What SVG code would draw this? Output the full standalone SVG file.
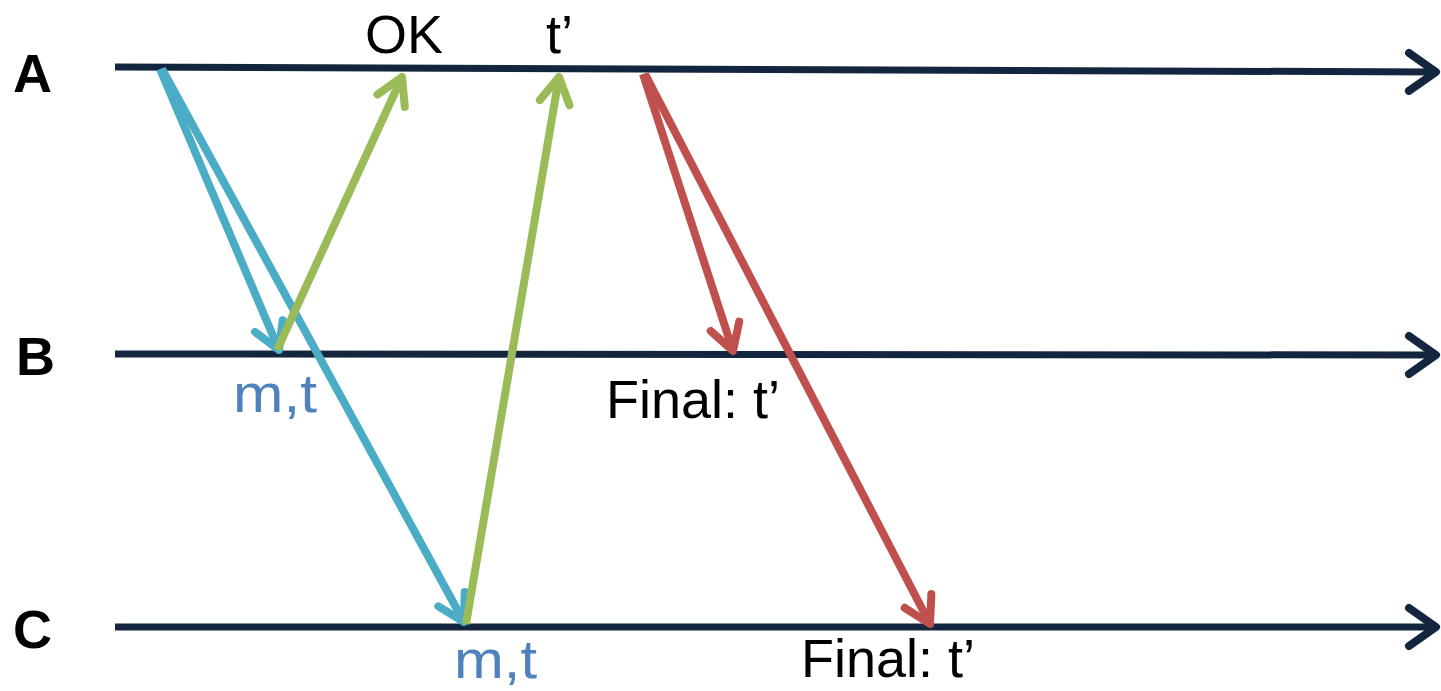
<svg xmlns="http://www.w3.org/2000/svg" width="1441" height="691" viewBox="0 0 1441 691">
<style>
.tl{stroke:#14263f;stroke-width:7;fill:none}
.c{stroke-width:8;fill:none}
.blue{stroke:#4bacc6}
.green{stroke:#9bbb59}
.red{stroke:#c0504d}
.lbl{font-family:"Liberation Sans",Arial,sans-serif;font-size:54px;fill:#000}
.big{font-weight:bold;font-size:54px}
.mt{fill:#4f81bd}
</style>
<defs>
<marker id="hNavy" markerUnits="userSpaceOnUse" viewBox="-35 -25 40 50" refX="0" refY="0" markerWidth="40" markerHeight="50" orient="auto" overflow="visible">
<path d="M-27 -19 L0 0 L-27 19" fill="none" stroke="#14263f" stroke-width="8" stroke-linecap="round" stroke-linejoin="round"/>
</marker>
<marker id="hBlue" markerUnits="userSpaceOnUse" viewBox="-35 -25 40 50" refX="0" refY="0" markerWidth="40" markerHeight="50" orient="auto" overflow="visible">
<path d="M-26 -15 L0 0 L-26 15" fill="none" stroke="#4bacc6" stroke-width="8" stroke-linecap="round" stroke-linejoin="round"/>
</marker>
<marker id="hGreen" markerUnits="userSpaceOnUse" viewBox="-35 -25 40 50" refX="0" refY="0" markerWidth="40" markerHeight="50" orient="auto" overflow="visible">
<path d="M-26 -15 L0 0 L-26 15" fill="none" stroke="#9bbb59" stroke-width="8" stroke-linecap="round" stroke-linejoin="round"/>
</marker>
<marker id="hRed" markerUnits="userSpaceOnUse" viewBox="-35 -25 40 50" refX="0" refY="0" markerWidth="40" markerHeight="50" orient="auto" overflow="visible">
<path d="M-26 -15 L0 0 L-26 15" fill="none" stroke="#c0504d" stroke-width="8" stroke-linecap="round" stroke-linejoin="round"/>
</marker>
</defs>
<g id="nodeA">
<line class="tl" x1="115" y1="67" x2="1436" y2="72" marker-end="url(#hNavy)"/>
<text class="lbl big" x="13" y="92">A</text>
</g>
<g id="nodeB">
<line class="tl" x1="115" y1="354" x2="1436" y2="355" marker-end="url(#hNavy)"/>
<text class="lbl big" x="16" y="375">B</text>
</g>
<g id="nodeC">
<line class="tl" x1="115" y1="627" x2="1436" y2="627" marker-end="url(#hNavy)"/>
<text class="lbl big" x="13" y="648">C</text>
</g>
<g id="connectors">
<line class="c blue" x1="160" y1="69" x2="279" y2="350" marker-end="url(#hBlue)"/>
<line class="c blue" x1="162" y1="69" x2="464" y2="622" marker-end="url(#hBlue)"/>
<line class="c green" x1="277" y1="350" x2="402" y2="77" marker-end="url(#hGreen)"/>
<line class="c green" x1="466" y1="624" x2="559" y2="77" marker-end="url(#hGreen)"/>
<line class="c red" x1="643" y1="74" x2="733" y2="351" marker-end="url(#hRed)"/>
<line class="c red" x1="645" y1="74" x2="930" y2="624" marker-end="url(#hRed)"/>
</g>
<g id="labels">
<text class="lbl" x="365" y="53">OK</text>
<text class="lbl" x="546" y="53">t’</text>
<text class="lbl mt" x="233" y="412" textLength="84" lengthAdjust="spacingAndGlyphs">m,t</text>
<text class="lbl mt" x="454" y="678" textLength="83" lengthAdjust="spacingAndGlyphs">m,t</text>
<text class="lbl" x="606" y="418">Final: t’</text>
<text class="lbl" x="801" y="677">Final: t’</text>
</g>
</svg>
